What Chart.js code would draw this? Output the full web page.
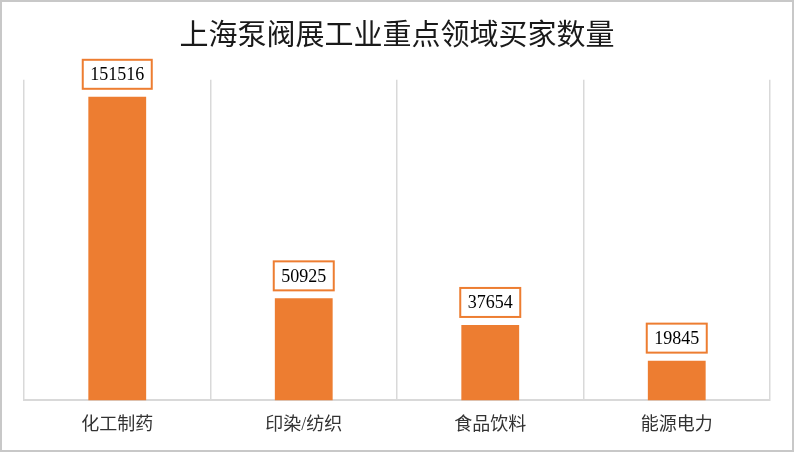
<!DOCTYPE html>
<html><head><meta charset="utf-8">
<script src="https://cdn.jsdelivr.net/npm/chart.js@4/dist/chart.umd.min.js"></script>
<style>
html,body{margin:0;padding:0;background:#fff;}
#wrap{position:absolute;left:0;top:0;width:790px;height:448px;border:2px solid #c8c8c8;background:#fff;}
canvas{display:block;}
</style></head>
<body>
<div id="wrap"><canvas id="c" width="790" height="448"></canvas></div>
<script>
const categories = ['化工制药', '印染/纺织', '食品饮料', '能源电力'];
const buyers = [151516, 50925, 37654, 19845];
const chartTitle = '上海泵阀展工业重点领域买家数量';
const FONT = "'Liberation Serif', 'Noto Sans CJK SC', serif";

const boxLabels = {
  id: 'boxLabels',
  afterDatasetsDraw(chart) {
    const ctx = chart.ctx;
    const meta = chart.getDatasetMeta(0);
    ctx.save();
    ctx.font = '18px ' + FONT;
    ctx.textAlign = 'center';
    ctx.textBaseline = 'middle';
    meta.data.forEach((bar, i) => {
      const txt = String(buyers[i]);
      const w = ctx.measureText(txt).width + 15;
      const h = 29;
      const cx = bar.x, cy = bar.y - 8 - h / 2;
      ctx.fillStyle = '#fff';
      ctx.fillRect(cx - w / 2, cy - h / 2, w, h);
      ctx.strokeStyle = '#ED7D31';
      ctx.lineWidth = 2;
      ctx.strokeRect(cx - w / 2, cy - h / 2, w, h);
      ctx.fillStyle = '#000';
      ctx.fillText(txt, cx, cy + 1);
    });
    ctx.restore();
  }
};

new Chart(document.getElementById('c'), {
  type: 'bar',
  data: {
    labels: categories,
    datasets: [{
      data: buyers,
      backgroundColor: '#ED7D31',
      borderWidth: 0,
      categoryPercentage: 1,
      barPercentage: 0.31
    }]
  },
  options: {
    responsive: false,
    animation: false,
    layout: { padding: { left: 22, right: 22, top: 0, bottom: 0 } },
    plugins: {
      legend: { display: false },
      tooltip: { enabled: false },
      title: {
        display: true,
        text: chartTitle,
        color: '#1a1a1a',
        font: { size: 29, family: FONT, weight: 'normal', lineHeight: 1.2 },
        padding: { top: 18, bottom: 25 }
      }
    },
    scales: {
      y: { display: false, min: 0, max: 160000 },
      x: {
        grid: { color: '#d9d9d9', lineWidth: 1.5, drawTicks: false, offset: true },
        border: { color: '#d9d9d9', width: 2 },
        ticks: { color: '#333', padding: 14, font: { size: 18, family: FONT } }
      }
    }
  },
  plugins: [boxLabels]
});
</script>
</body></html>
